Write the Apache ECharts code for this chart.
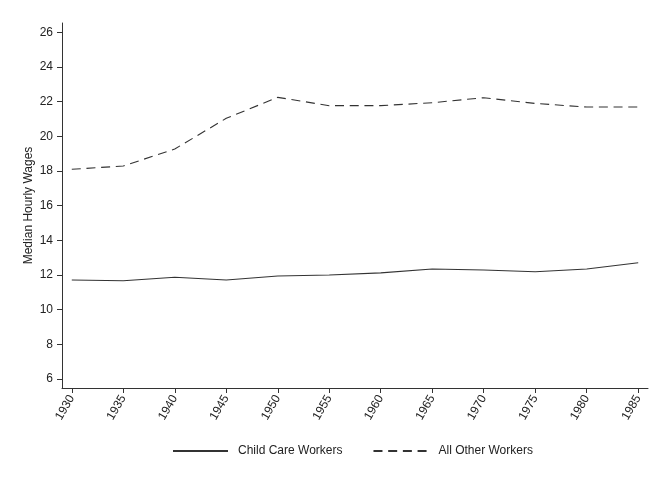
<!DOCTYPE html>
<html><head><meta charset="utf-8">
<script src="https://cdn.jsdelivr.net/npm/echarts@6/dist/echarts.min.js"></script>
<style>html,body{margin:0;padding:0;background:#fff}#c{width:656px;height:485px}</style>
</head><body><div id="c"></div>
<script>
const years = [1930,1935,1940,1945,1950,1955,1960,1965,1970,1975,1980,1985];
const childCare = [11.71,11.67,11.87,11.71,11.94,12.0,12.12,12.35,12.29,12.19,12.35,12.71];
const allOther = [18.1,18.29,19.27,21.04,22.25,21.77,21.77,21.94,22.23,21.9,21.69,21.69];
const yTicks = [6,8,10,12,14,16,18,20,22,24,26];
const xTicks = years;

const font = 'Liberation Sans, Arial, sans-serif';
const chart = echarts.init(document.getElementById('c'), null, {renderer:'canvas'});
chart.setOption({
  animation:false,
  backgroundColor:'#fff',
  grid:{left:62,right:8,top:23,bottom:97,containLabel:false},
  legend:{
    top:440, left:167,
    itemWidth:55, itemHeight:12, itemGap:30,
    itemStyle:{opacity:0},
    textStyle:{fontFamily:font,fontSize:12,color:'#222',padding:[0,0,0,5]},
    data:['Child Care Workers','All Other Workers']
  },
  xAxis:{
    type:'value', min:1929.05, max:1985.95,
    axisLine:{lineStyle:{color:'#333',width:1}},
    axisTick:{show:true,length:5,customValues:xTicks,lineStyle:{color:'#333'}},
    axisLabel:{customValues:xTicks,rotate:60,fontFamily:font,fontSize:12,color:'#222',margin:8,
      formatter:v=>String(Math.round(v))},
    splitLine:{show:false}
  },
  yAxis:{
    type:'value', min:5.48, max:26.54,
    name:'Median Hourly Wages', nameLocation:'middle', nameGap:27, nameMoveOverlap:false,
    nameTextStyle:{fontFamily:font,fontSize:12,color:'#222'},
    axisLine:{show:true,lineStyle:{color:'#333',width:1}},
    axisTick:{show:true,length:5,customValues:yTicks,lineStyle:{color:'#333'}},
    axisLabel:{customValues:yTicks,fontFamily:font,fontSize:12,color:'#222',margin:9},
    splitLine:{show:false}
  },
  series:[
    {name:'Child Care Workers',type:'line',data:years.map((y,i)=>[y,childCare[i]]),
     symbol:'none',lineStyle:{color:'#333',width:1.1,type:'solid'},itemStyle:{color:'#333'}},
    {name:'All Other Workers',type:'line',data:years.map((y,i)=>[y,allOther[i]]),
     symbol:'none',lineStyle:{color:'#333',width:1.1,type:[9,5.7]},itemStyle:{color:'#333'}}
  ]
});
</script></body></html>
